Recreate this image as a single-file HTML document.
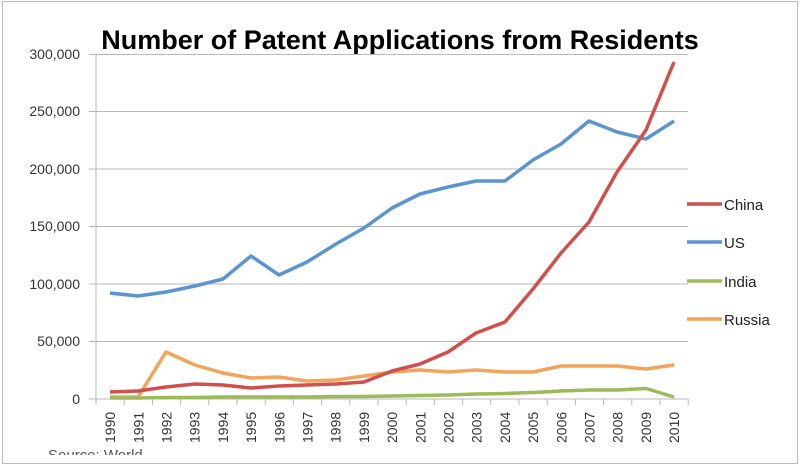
<!DOCTYPE html>
<html><head><style>
html,body{margin:0;padding:0;background:#fff;}
svg{display:block;font-family:"Liberation Sans",sans-serif;}
</style></head><body>
<svg width="800" height="465" viewBox="0 0 800 465">
<rect x="2.5" y="1.5" width="795" height="462" fill="#fff" stroke="#bbb" stroke-width="1"/>
<text x="400" y="49" text-anchor="middle" font-size="27" font-weight="bold" fill="#000">Number of Patent Applications from Residents</text>
<g stroke="#b8b8b8" stroke-width="1">
<line x1="89" y1="54.5" x2="688" y2="54.5"/>
<line x1="89" y1="111.5" x2="688" y2="111.5"/>
<line x1="89" y1="169" x2="688" y2="169"/>
<line x1="89" y1="226.5" x2="688" y2="226.5"/>
<line x1="89" y1="284" x2="688" y2="284"/>
<line x1="89" y1="341.5" x2="688" y2="341.5"/>
<line x1="89" y1="399" x2="688" y2="399"/>
<line x1="96" y1="54" x2="96" y2="405"/>
<path d="M96 399v6M124.2 399v6M152.4 399v6M180.6 399v6M208.8 399v6M237 399v6M265.2 399v6M293.4 399v6M321.6 399v6M349.8 399v6M378 399v6M406.2 399v6M434.4 399v6M462.6 399v6M490.8 399v6M519 399v6M547.2 399v6M575.4 399v6M603.6 399v6M631.8 399v6M660 399v6M688.2 399v6"/>
</g>
<g font-size="14" fill="#333" text-anchor="end">
<text x="80" y="59">300,000</text>
<text x="80" y="116">250,000</text>
<text x="80" y="174">200,000</text>
<text x="80" y="231">150,000</text>
<text x="80" y="289">100,000</text>
<text x="80" y="346">50,000</text>
<text x="80" y="404">0</text>
</g>
<g font-size="14" fill="#333">
<text transform="translate(115.1,443) rotate(-90)">1990</text>
<text transform="translate(143.3,443) rotate(-90)">1991</text>
<text transform="translate(171.5,443) rotate(-90)">1992</text>
<text transform="translate(199.7,443) rotate(-90)">1993</text>
<text transform="translate(227.9,443) rotate(-90)">1994</text>
<text transform="translate(256.1,443) rotate(-90)">1995</text>
<text transform="translate(284.3,443) rotate(-90)">1996</text>
<text transform="translate(312.5,443) rotate(-90)">1997</text>
<text transform="translate(340.7,443) rotate(-90)">1998</text>
<text transform="translate(368.9,443) rotate(-90)">1999</text>
<text transform="translate(397.1,443) rotate(-90)">2000</text>
<text transform="translate(425.3,443) rotate(-90)">2001</text>
<text transform="translate(453.5,443) rotate(-90)">2002</text>
<text transform="translate(481.7,443) rotate(-90)">2003</text>
<text transform="translate(509.9,443) rotate(-90)">2004</text>
<text transform="translate(538.1,443) rotate(-90)">2005</text>
<text transform="translate(566.3,443) rotate(-90)">2006</text>
<text transform="translate(594.5,443) rotate(-90)">2007</text>
<text transform="translate(622.7,443) rotate(-90)">2008</text>
<text transform="translate(650.9,443) rotate(-90)">2009</text>
<text transform="translate(679.1,443) rotate(-90)">2010</text>
</g>
<polyline fill="none" stroke="#5b94cf" stroke-width="3.5" stroke-linejoin="round" points="110,293 138,296 166,292 195,286 223,279 251,256 279,275 307,262 336,244 364,228 392,208 420,194 448,187 476,181 505,181 533,160 561,144 589,121 617,132 646,139 674,121"/>
<polyline fill="none" stroke="#f4a35a" stroke-width="3.5" stroke-linejoin="round" points="110,397 138,397 166,352 195,365 223,373 251,378 279,377 307,381 336,380 364,376 392,372 420,370 448,372 476,370 505,372 533,372 561,366 589,366 617,366 646,369 674,365"/>
<polyline fill="none" stroke="#9bbb59" stroke-width="3.5" stroke-linejoin="round" points="110,398 138,398 166,397.5 195,397.5 223,397 251,397 279,397 307,397 336,396.5 364,396.5 392,396 420,395.5 448,395 476,394 505,393.5 533,392.5 561,391 589,390 617,390 646,388.5 674,397"/>
<polyline fill="none" stroke="#d0504c" stroke-width="3.5" stroke-linejoin="round" points="110,392 138,391 166,387 195,384 223,385 251,388 279,386 307,385 336,384 364,382 392,371 420,364 448,352 476,333 505,322 533,289 561,253 589,222 617,172 646,130 674,62"/>
<g stroke-width="3.5">
<line x1="687" y1="204" x2="722" y2="204" stroke="#d0504c"/>
<line x1="687" y1="242" x2="722" y2="242" stroke="#5b94cf"/>
<line x1="687" y1="281" x2="722" y2="281" stroke="#9bbb59"/>
<line x1="687" y1="319" x2="722" y2="319" stroke="#f4a35a"/>
</g>
<g font-size="15" fill="#222">
<text x="724" y="210">China</text>
<text x="724" y="248">US</text>
<text x="724" y="287">India</text>
<text x="724" y="325">Russia</text>
</g>
<text x="48" y="460" font-size="15" fill="#555">Source: World</text>
<rect x="3" y="455" width="794" height="8" fill="#fff"/>
</svg>
</body></html>
